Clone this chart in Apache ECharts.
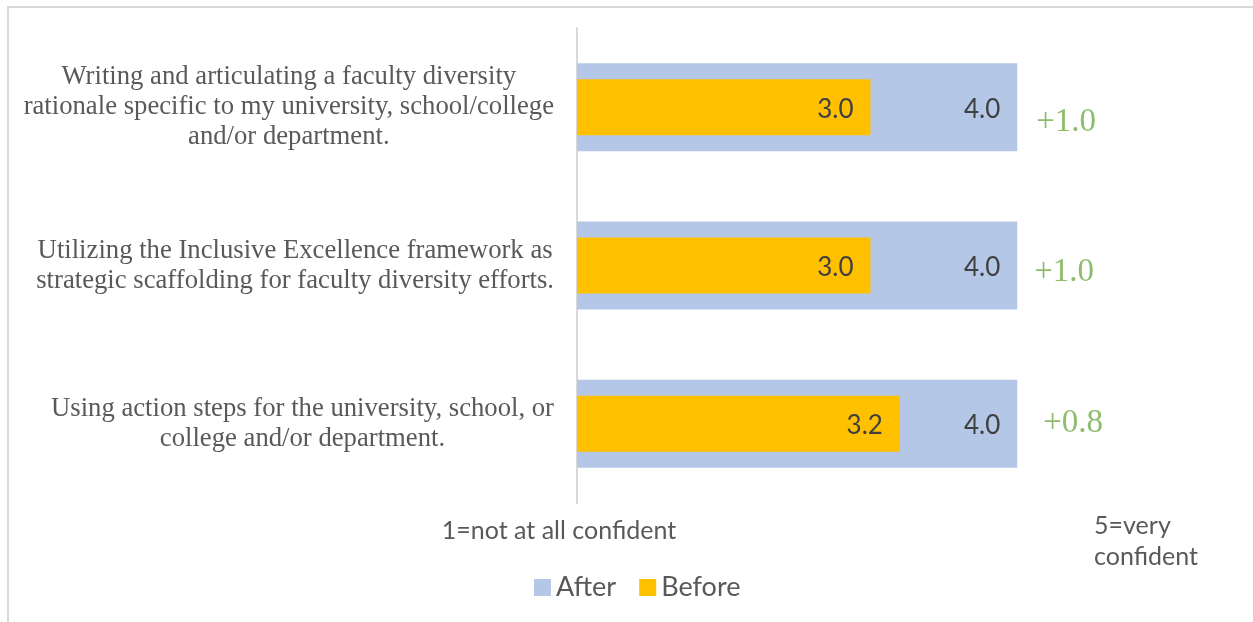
<!DOCTYPE html>
<html>
<head>
<meta charset="utf-8">
<style>
  html, body { margin: 0; padding: 0; background: #ffffff; }
  #chart { width: 1253px; height: 622px; }
</style>
<script src="https://cdn.jsdelivr.net/npm/echarts@6/dist/echarts.min.js"></script>
</head>
<body>
<div id="chart"></div>
<script>
// Survey items, top to bottom, with the line breaks used in the axis labels
const categories = [
  'Writing and articulating a faculty diversity\nrationale specific to my university, school/college\nand/or department.',
  'Utilizing the Inclusive Excellence framework as\nstrategic scaffolding for faculty diversity efforts.',
  'Using action steps for the university, school, or\ncollege and/or department.'
];
// Mean confidence ratings (1–5 scale)
const afterValues = [4.0, 4.0, 4.0];
const beforeValues = [3.0, 3.0, 3.2];
// Scale end labels
const scaleLow = '1=not at all confident';
const scaleHigh = '5=very\nconfident';

const changes = afterValues.map((v, i) => v - beforeValues[i]);

// Nudges for the change annotations beside each bar
const changeLabelOffsets = [[19, 15], [17, 7], [26, -1]];

const chart = echarts.init(document.getElementById('chart'), null, { renderer: 'canvas' });

const SANS = 'Lato, "Liberation Sans", sans-serif';
const SERIF = '"Liberation Serif", "DejaVu Serif", serif';

const valueLabel = {
  show: true,
  position: 'insideRight',
  distance: 17,
  offset: [0, 2],
  formatter: p => p.value.toFixed(1),
  fontFamily: SANS,
  fontSize: 26,
  color: '#404040'
};

chart.setOption({
  animation: false,
  backgroundColor: '#ffffff',
  graphic: [
    {
      type: 'polyline',
      silent: true,
      shape: { points: [[8, 622], [8, 7], [1253, 7]] },
      style: { stroke: '#d9d9d9', lineWidth: 2, fill: null }
    }
  ],
  legend: {
    data: ['After', 'Before'],
    left: 529,
    top: 569,
    icon: 'rect',
    itemWidth: 17,
    itemHeight: 17,
    itemGap: 23,
    textStyle: { fontFamily: SANS, fontSize: 27, color: '#595959' }
  },
  grid: {
    left: 577,
    right: 89,
    top: 28,
    bottom: 119,
    containLabel: false
  },
  xAxis: {
    type: 'value',
    min: 1,
    max: 5,
    axisLine: { show: false },
    axisTick: { show: false },
    splitLine: { show: false },
    axisLabel: {
      show: true,
      showMinLabel: true,
      showMaxLabel: true,
      margin: 7,
      verticalAlign: 'top',
      padding: [0, 36, 0, 0],
      formatter: function (v) {
        if (v === 1) return '{lo|' + scaleLow + '}';
        if (v === 5) return scaleHigh.split('\n').map(s => '{hi|' + s + '}').join('\n');
        return '';
      },
      rich: {
        lo: { fontFamily: SANS, fontSize: 25, color: '#595959', lineHeight: 42 },
        hi: { fontFamily: SANS, fontSize: 25, color: '#595959', lineHeight: 31, align: 'left' }
      }
    }
  },
  yAxis: [
    {
      type: 'category',
      inverse: true,
      data: categories,
      axisLine: { show: true, lineStyle: { color: '#d9d9d9', width: 2 } },
      axisTick: { show: false },
      axisLabel: {
        margin: 23,
        align: 'right',
        formatter: function (v) {
          return v.split('\n').map(s => '{c|' + s + '}').join('\n');
        },
        rich: {
          c: { fontFamily: SERIF, fontSize: 26.7, color: '#595959', lineHeight: 30, align: 'center' }
        }
      }
    },
    {
      // twin axis so the narrower "Before" bars sit centred inside the "After" bars
      type: 'category',
      inverse: true,
      data: categories,
      position: 'left',
      show: false
    }
  ],
  series: [
    {
      name: 'After',
      type: 'bar',
      yAxisIndex: 0,
      data: afterValues,
      barWidth: 88,
      itemStyle: { color: '#b4c7e7' },
      label: valueLabel,
      z: 2
    },
    {
      name: 'Before',
      type: 'bar',
      yAxisIndex: 1,
      data: beforeValues,
      barWidth: 56,
      itemStyle: { color: '#ffc000' },
      label: valueLabel,
      z: 3
    },
    {
      name: 'Change',
      type: 'scatter',
      yAxisIndex: 0,
      symbolSize: 0,
      silent: true,
      data: categories.map((c, i) => ({
        value: [afterValues[i], c],
        label: { offset: changeLabelOffsets[i] }
      })),
      label: {
        show: true,
        position: 'right',
        distance: 0,
        formatter: p => '+' + changes[p.dataIndex].toFixed(1),
        fontFamily: SERIF,
        fontSize: 33,
        color: '#70ad47'
      },
      z: 4
    }
  ]
});
</script>
</body>
</html>
